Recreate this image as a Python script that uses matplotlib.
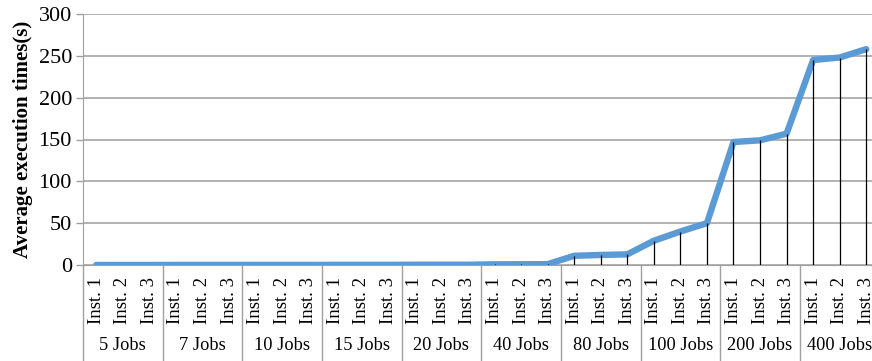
import numpy as np
import matplotlib.pyplot as plt

plt.rcParams['font.family'] = ['Liberation Serif', 'DejaVu Serif']

groups = ['5 Jobs', '7 Jobs', '10 Jobs', '15 Jobs', '20 Jobs',
          '40 Jobs', '80 Jobs', '100 Jobs', '200 Jobs', '400 Jobs']
instances = ['Inst. 1', 'Inst. 2', 'Inst. 3']
times = [0.05, 0.05, 0.05,
         0.1, 0.1, 0.1,
         0.1, 0.1, 0.1,
         0.2, 0.2, 0.2,
         0.3, 0.3, 0.3,
         0.8, 0.9, 1.0,
         11, 12, 12.7,
         29, 40, 50,
         147, 149, 157,
         245, 248, 258]
yticks = [0, 50, 100, 150, 200, 250, 300]

W, H = 872, 361
fig = plt.figure(figsize=(W / 100, H / 100), dpi=100)
# plot area runs a bit past the right edge of the image, as in the original
left, right, top, bottom = 83, 879.5, 14, 265
ax = fig.add_axes([left / W, (H - bottom) / H, (right - left) / W, (bottom - top) / H])

x = np.arange(len(times))
ax.plot(x, times, color='#5B9BD5', lw=4.6, solid_capstyle='round', solid_joinstyle='round', zorder=3)
ax.vlines(x, 0, times, color='black', lw=0.9, zorder=4)

ax.set_xlim(-0.5, len(times) - 0.5)
ax.set_ylim(0, 300)
ax.set_yticks(yticks)
ax.set_yticklabels([str(t) for t in yticks], fontsize=16)
ax.tick_params(axis='y', length=5, width=1, color='#A0A0A0', pad=3)
ax.set_xticks([])
ax.grid(axis='y', color='#A6A6A6', lw=1.2, zorder=0)
ax.set_axisbelow(True)
for s in ['top', 'right']:
    ax.spines[s].set_visible(False)
ax.spines['left'].set_color('#A0A0A0')
ax.spines['bottom'].set_color('#A0A0A0')
ax.set_ylabel('Average execution times(s)', fontsize=15, fontweight='bold', labelpad=4)

trans = ax.get_xaxis_transform()
axh = bottom - top
bot_ax = -(H - bottom) / axh
for i, g in enumerate(groups):
    for j, inst in enumerate(instances):
        k = i * 3 + j
        ax.text(k, -12 / axh, inst, rotation=90, ha='center', va='top',
                fontsize=13.5, transform=trans, clip_on=False)
    ax.text(i * 3 + 1, -80 / axh, g, ha='center', va='center', fontsize=13.2,
            transform=trans, clip_on=False)
    ax.plot([i * 3 - 0.5] * 2, [0, bot_ax], color='#A0A0A0', lw=1,
            transform=trans, clip_on=False)
ax.plot([len(times) - 0.5] * 2, [0, bot_ax], color='#A0A0A0', lw=1,
        transform=trans, clip_on=False)

fig.savefig('out.png', dpi=100)
